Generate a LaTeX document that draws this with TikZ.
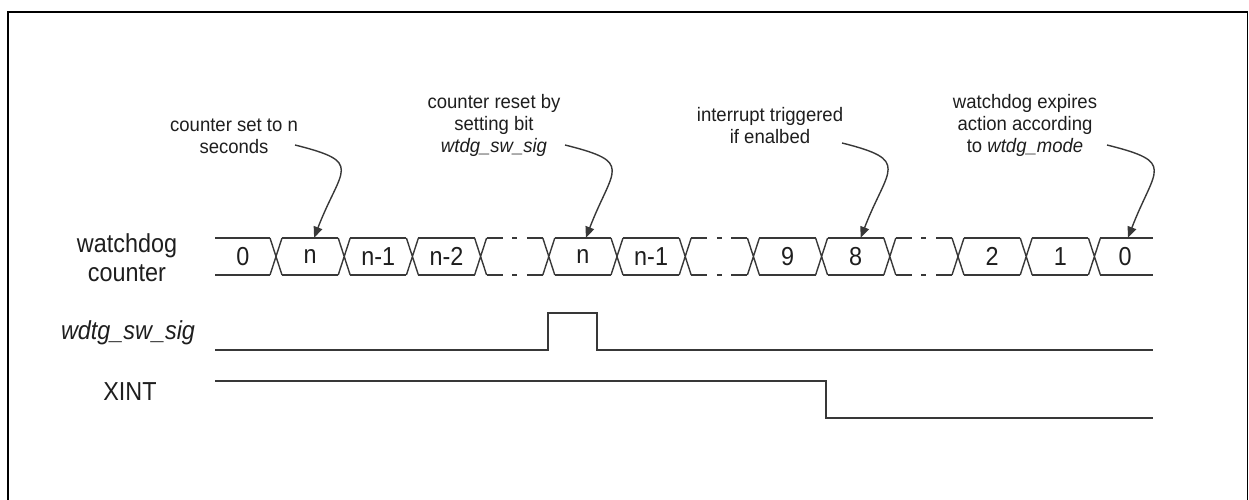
\documentclass[tikz,border=0pt]{standalone}
\usepackage{fontspec}
\setmainfont{Liberation Sans}
\newfontfamily\notefont[FakeStretch=0.95]{Liberation Sans}
\newfontfamily\sigfont[FakeStretch=0.9]{Liberation Sans}
\usetikzlibrary{arrows.meta}
\definecolor{wire}{HTML}{383838}
\definecolor{ink}{HTML}{1E1E1E}
\tikzset{
  bus/.style={draw=wire,line width=1.4pt},
  wave/.style={draw=wire,line width=1.7pt},
  cell/.style={inner sep=0pt,minimum height=37pt,text=ink,font={\sigfont\fontsize{26}{29}\selectfont}},
  siglabel/.style={align=center,text=ink,font={\sigfont\fontsize{26}{29}\selectfont}},
  note/.style={align=center,text=ink,font={\notefont\fontsize{19.5}{22}\selectfont}},
  pointer/.style={draw=wire,line width=1.4pt,-{Triangle[length=11pt,width=9pt]}},
  hook/.style={out=-14,in=69,out distance=72pt,in distance=75pt}
}
\begin{document}
\begin{tikzpicture}[x=1pt,y=1pt]
  \useasboundingbox (0,0) rectangle (1249,500);
  \draw[line width=1.7pt] (8,-5) -- (8,488) -- (1247.5,488) -- (1247.5,-5);

  % signal names
  \node[siglabel] (cnt) at (127,242.5) {watchdog\\counter};
  \node[siglabel] (sw) at (128,167) {\itshape wdtg\_sw\_sig};
  \node[siglabel] (xint) at (130,108) {XINT};

  % counter bus
  \foreach \k in {0,...,12}{
    \pgfmathsetmacro\cx{276+68.2*\k}
    \draw[bus] (\cx-6,262) -- (\cx+6,225) (\cx-6,225) -- (\cx+6,262);
  }
  \foreach \j in {1,2,3,5,6,8,9,11,12}{
    \pgfmathsetmacro\xa{276+68.2*(\j-1)+6}
    \pgfmathsetmacro\xb{276+68.2*\j-6}
    \draw[bus] (\xa,262) -- (\xb,262) (\xa,225) -- (\xb,225);
  }
  \foreach \j in {4,7,10}{
    \pgfmathsetmacro\xa{276+68.2*(\j-1)+6}
    \pgfmathsetmacro\xb{276+68.2*\j-6}
    \pgfmathsetmacro\xm{(\xa+\xb)/2}
    \foreach \y in {262,225}
      \draw[bus] (\xa,\y) -- ++(16,0) (\xm-2.5,\y) -- (\xm+2.5,\y) (\xb-16,\y) -- (\xb,\y);
  }
  \draw[bus] (215,262) -- (270,262) (215,225) -- (270,225);
  \draw[bus] (1100.4,262) -- (1153,262) (1100.4,225) -- (1153,225);

  \node[cell] (c0) at (243,243.5) {0};
  \foreach \j/\lab in {1/n,2/n-1,3/n-2,5/n,6/n-1,8/9,9/8,11/2,12/1}
    \node[cell] (c\j) at ({276+68.2*(\j-0.5)},243.5) {\lab};
  \node[cell] (c13) at (1125,243.5) {0};

  % other signals
  \draw[wave] (215,150) -- (548,150) -- (548,187) -- (597,187) -- (597,150) -- (1153,150);
  \draw[wave] (215,119) -- (826,119) -- (826,82) -- (1153,82);

  % notes
  \node[note] (t1) at (234,364) {counter set to n\\seconds};
  \node[note] (t2) at (494,375) {counter reset by\\setting bit\\\textit{wtdg\_sw\_sig}};
  \node[note] (t3) at (770,374) {interrupt triggered\\if enalbed};
  \node[note] (t4) at (1025,375) {watchdog expires\\action according\\to \textit{wtdg\_mode}};

  \coordinate (s1) at (295,355);
  \coordinate (s2) at (565,355);
  \coordinate (s3) at (842,357);
  \coordinate (s4) at (1107,355);
  \draw[pointer] (s1) to[hook] ([xshift=4pt]c1.north);
  \draw[pointer] (s2) to[hook] ([xshift=3pt]c5.north);
  \draw[pointer] (s3) to[hook] ([xshift=5pt]c9.north);
  \draw[pointer] (s4) to[hook] ([xshift=3pt]c13.north);
\end{tikzpicture}
\end{document}
